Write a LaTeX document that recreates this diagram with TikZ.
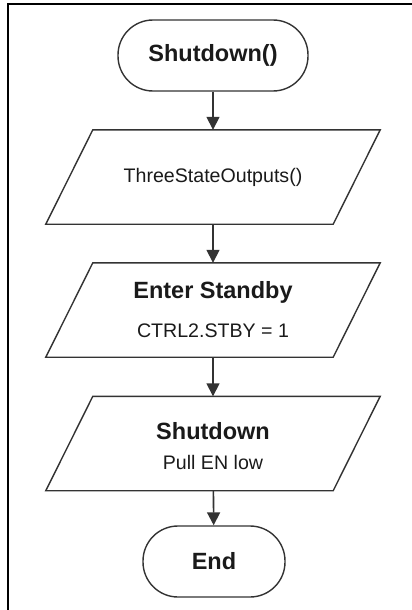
\documentclass[tikz,border=0pt]{standalone}
\usepackage{fontspec}
\setmainfont{Liberation Sans}
\usetikzlibrary{calc,arrows.meta}
\definecolor{lineC}{HTML}{333333}
\definecolor{textC}{HTML}{1A1A1A}
\begin{document}
\begin{tikzpicture}[x=1pt,y=-1pt,
  term/.style={draw=lineC, line width=1.4pt, rounded corners=35pt, minimum width=190pt, minimum height=71pt, inner sep=0pt, text=textC, font=\fontsize{23.5}{26}\selectfont\bfseries},
  io/.style={rectangle, minimum width=287pt, minimum height=94pt, inner sep=0pt, text=textC, align=center, font=\fontsize{19.6}{24}\selectfont},
  ioline/.style={draw=lineC, line width=1.4pt, line join=miter},
  arr/.style={draw=lineC, line width=1.6pt, -{Triangle[width=13pt,length=13pt]}},
]
\useasboundingbox (0,0) rectangle (412,610);
\draw[black, line width=2pt] (412,4.5) -- (7.5,4.5) -- (7.5,610);

\node[term] (s) at (213,55.5) {Shutdown()};
\node[io] (p1) at (213,177) {ThreeStateOutputs()};
\node[io] (p2) at (213,310) {{\bfseries\fontsize{23.5}{24}\selectfont Enter Standby}\\[15pt]CTRL2.STBY = 1};
\node[io] (p3) at (213,443.5) {{\bfseries\fontsize{23.5}{24}\selectfont\rule{0pt}{22.2pt}Shutdown}\\[6pt]Pull EN low};
\node[term, minimum width=142pt] (e) at (214,561.5) {End};

\foreach \n in {p1,p2,p3}
  \draw[ioline] ($(\n.north west)+(23.5,0)$) -- ($(\n.north east)+(23.5,0)$)
    -- ($(\n.south east)+(-23.5,0)$) -- ($(\n.south west)+(-23.5,0)$) -- cycle;

\draw[arr] (s) -- (p1);
\draw[arr] (p1) -- (p2);
\draw[arr] (p2) -- (p3);
\draw[arr] (p3) -- (e);
\end{tikzpicture}
\end{document}
